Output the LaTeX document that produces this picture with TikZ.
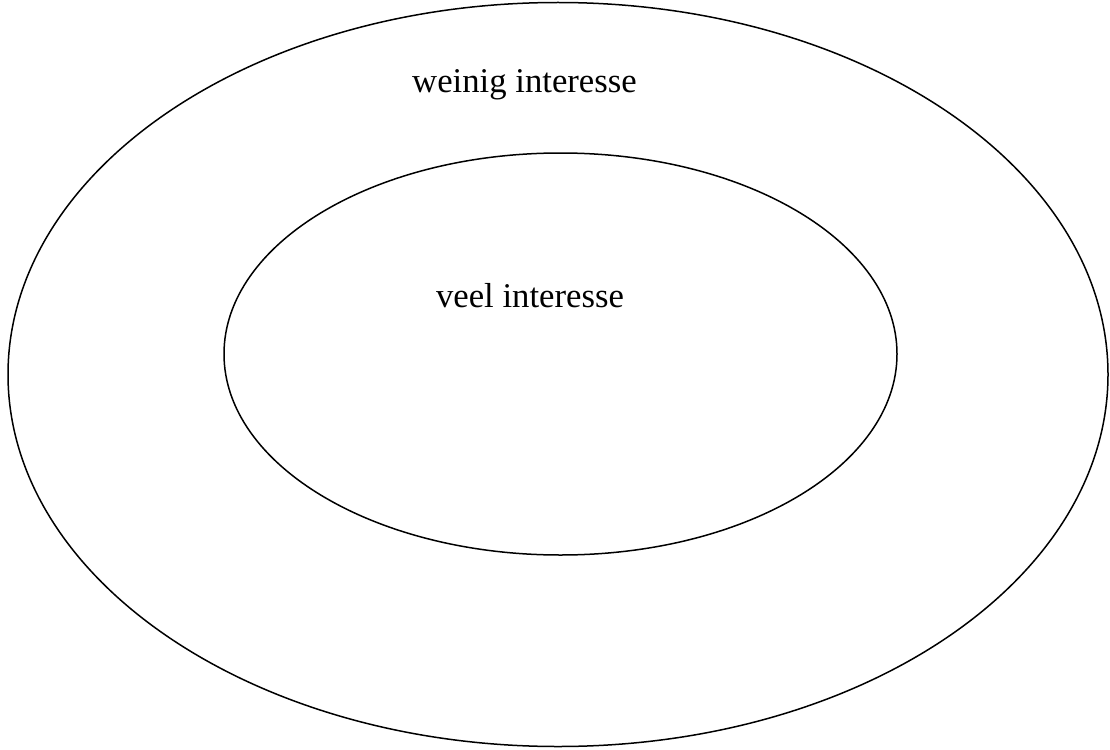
\documentclass[tikz,border=0pt]{standalone}
\usepackage{fontspec}
\setmainfont{Liberation Serif}
\begin{document}
\begin{tikzpicture}[x=1pt,y=-1pt,
  ring/.style={draw=black,line width=1.5pt},
  lbl/.style={font=\fontsize{34.7}{40}\selectfont,anchor=base,inner sep=0pt}]
\useasboundingbox (0,0) rectangle (1110,749);
\draw[ring] (558,374.5) ellipse [x radius=550, y radius=372];
\draw[ring] (560.5,354) ellipse [x radius=336.5, y radius=201];
\node[lbl] (outer) at (524.5,93) {weinig interesse};
\node[lbl] (inner) at (530,307) {veel interesse};
\end{tikzpicture}
\end{document}
